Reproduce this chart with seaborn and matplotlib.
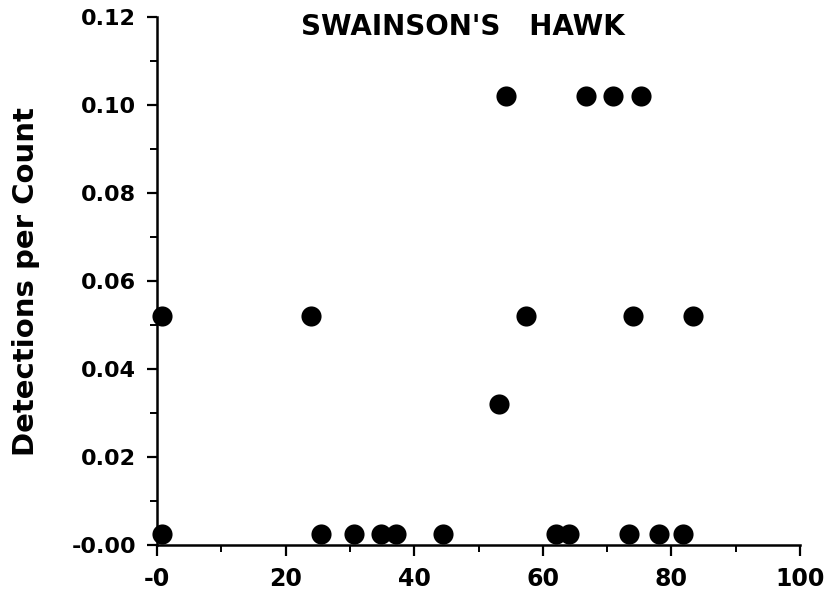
import matplotlib
matplotlib.use("Agg")
import matplotlib.pyplot as plt
import seaborn as sns
import pandas as pd
from matplotlib.ticker import MultipleLocator, FixedLocator

sns.set_theme(style="ticks")
plt.rcParams['font.family'] = ['DejaVu Sans']

# Values (percent cover vs detections per count)
cover = [0.7, 25.5, 30.7, 34.8, 37.2, 44.4, 62.0, 64.1, 73.4, 78.0, 81.8,
         0.8, 23.9, 57.4, 74.1, 83.4,
         53.2,
         54.2, 66.7, 70.9, 75.2]
detections = [0.0025, 0.0025, 0.0025, 0.0025, 0.0025, 0.0025, 0.0025, 0.0025, 0.0025, 0.0025, 0.0025,
              0.052, 0.052, 0.052, 0.052, 0.052,
              0.032,
              0.102, 0.102, 0.102, 0.102]

x_ticks = [0, 20, 40, 60, 80, 100]
x_tick_labels = ["-0", "20", "40", "60", "80", "100"]
y_ticks = [0.0, 0.02, 0.04, 0.06, 0.08, 0.10, 0.12]
y_tick_labels = ["-0.00", "0.02", "0.04", "0.06", "0.08", "0.10", "0.12"]

df = pd.DataFrame({"cover": cover, "detections": detections})

fig = plt.figure(figsize=(8.33, 5.95), dpi=100)
ax = fig.add_axes([0.1885, 0.084, 0.7719, 0.8875])

sns.scatterplot(data=df, x="cover", y="detections", ax=ax, s=210,
                color="black", edgecolor="black", linewidth=0, clip_on=False, zorder=3)

ax.set_xlim(0, 100)
ax.set_ylim(0, 0.12)
sns.despine(ax=ax)
for side in ["left", "bottom"]:
    ax.spines[side].set_linewidth(1.8)
    ax.spines[side].set_color("black")

ax.xaxis.set_major_locator(FixedLocator(x_ticks))
ax.set_xticklabels(x_tick_labels)
ax.xaxis.set_minor_locator(MultipleLocator(10))
ax.yaxis.set_major_locator(FixedLocator(y_ticks))
ax.set_yticklabels(y_tick_labels)
ax.yaxis.set_minor_locator(MultipleLocator(0.01))

ax.tick_params(axis="x", which="major", direction="out", length=8, width=1.6, pad=8,
               labelsize=17, color="black")
ax.tick_params(axis="x", which="minor", direction="out", length=5, width=1.4, color="black")
ax.tick_params(axis="y", which="major", direction="out", length=7, width=1.6, pad=8,
               labelsize=16, color="black")
ax.tick_params(axis="y", which="minor", direction="out", length=5, width=1.4, color="black")
for lab in ax.get_xticklabels() + ax.get_yticklabels():
    lab.set_fontweight("bold")
    lab.set_color("black")

ax.set_xlabel("")
ax.set_ylabel("")
fig.text(0.031, 0.526, "Detections per Count", rotation=90, ha="center", va="center",
         fontsize=21, fontweight="bold", color="black")
fig.text(0.556, 0.954, "SWAINSON'S   HAWK", ha="center", va="center",
         fontsize=20, fontweight="bold", color="black")

fig.savefig("out.png", dpi=100)
